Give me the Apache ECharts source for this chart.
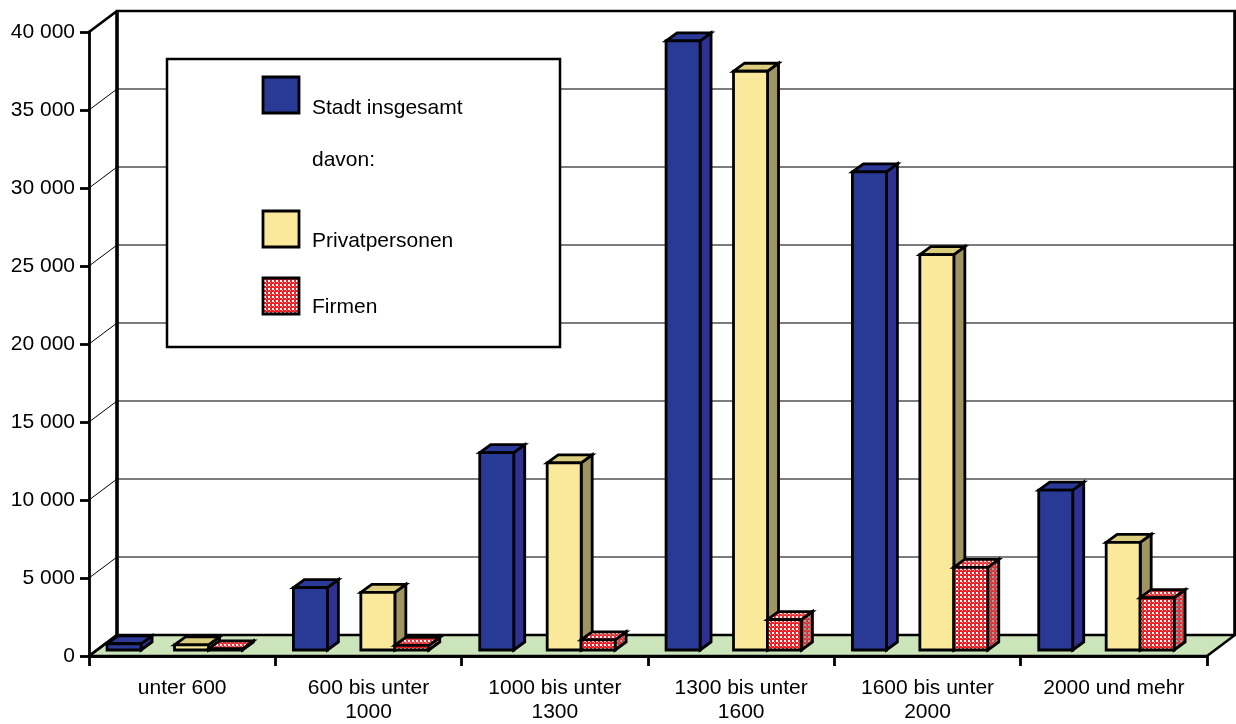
<!DOCTYPE html>
<html>
<head>
<meta charset="utf-8">
<script src="https://cdn.jsdelivr.net/npm/echarts@6/dist/echarts.min.js"></script>
<style>
html,body{margin:0;padding:0;background:#fff;}
#chart{width:1236px;height:724px;}
</style>
</head>
<body>
<div id="chart"></div>
<script>
// ---- data ----
var categories = ["unter 600", "600 bis unter\n1000", "1000 bis unter\n1300", "1300 bis unter\n1600", "1600 bis unter\n2000", "2000 und mehr"];
var stadtInsgesamt = [400, 4000, 12650, 39050, 30650, 10250];
var privatpersonen = [330, 3700, 12000, 37100, 25350, 6900];
var firmen = [70, 300, 650, 1950, 5300, 3350];
var yTicks = [0, 5000, 10000, 15000, 20000, 25000, 30000, 35000, 40000];
var legendNames = ["Stadt insgesamt", "davon:", "Privatpersonen", "Firmen"];

// ---- style constants ----
var FONT = "Liberation Sans, Arial, sans-serif";
var DX = 28, DY = -21;          // depth of the chart box
var BX = 8, BY = -6;            // bar front offset into depth
var BDX = 11, BDY = -8;         // bar depth
var BAR_W = 0.1825;             // bar width as fraction of band

function makePattern(c1, c2, c3) {
  var cv = document.createElement('canvas');
  cv.width = 4; cv.height = 4;
  var ctx = cv.getContext('2d');
  ctx.fillStyle = c1; ctx.fillRect(0, 0, 4, 4);
  ctx.fillStyle = c2; ctx.fillRect(0, 0, 2, 2);
  ctx.fillStyle = c3; ctx.fillRect(2, 2, 1, 1);
  return cv;
}
var redFront = {image: makePattern('#EE2026', '#FFFFFF', '#F6A3A5'), repeat: 'repeat'};
var redTop = {image: makePattern('#E8373A', '#FBEDED', '#F2B0B0'), repeat: 'repeat'};
var redSide = {image: makePattern('#D8363A', '#A0A0A0', '#B88080'), repeat: 'repeat'};

var chart = echarts.init(document.getElementById('chart'), null, {renderer: 'canvas'});

function frameRender(params, api) {
  var bw = api.size([1, 0])[0];
  var c0 = api.coord([0, 0]);
  var x0 = c0[0] - bw / 2;
  var x1 = x0 + categories.length * bw;
  var y0 = c0[1];
  var yTop = api.coord([0, 40000])[1];
  var children = [];
  // floor
  children.push({type: 'polygon', shape: {points: [[x0, y0], [x1, y0], [x1 + DX, y0 + DY], [x0 + DX, y0 + DY]]},
    style: {fill: '#CBE4BA', stroke: '#000', lineWidth: 2.5}});
  // back wall grid lines and side wall diagonals
  yTicks.forEach(function (v) {
    var y = api.coord([0, v])[1];
    var thick = (v === 0 || v === 40000);
    if (!thick) {
      children.push({type: 'line', shape: {x1: x0 + DX, y1: y + DY, x2: x1 + DX, y2: y + DY},
        style: {stroke: '#505050', lineWidth: 1.5}});
    }
    children.push({type: 'line', shape: {x1: x0, y1: y, x2: x0 + DX, y2: y + DY},
      style: {stroke: '#000', lineWidth: thick ? 2.8 : 1}});
  });
  // back wall border
  children.push({type: 'polyline', shape: {points: [[x0 + DX, y0 + DY], [x0 + DX, yTop + DY], [x1 + DX, yTop + DY], [x1 + DX, y0 + DY]]},
    style: {fill: null, stroke: '#000', lineWidth: 2.5}});
  children.push({type: 'line', shape: {x1: x0 + DX, y1: y0 + DY, x2: x0 + DX, y2: yTop + DY},
    style: {stroke: '#000', lineWidth: 3.5}});
  children.push({type: 'line', shape: {x1: x1 + DX, y1: y0 + DY, x2: x1 + DX, y2: yTop + DY},
    style: {stroke: '#000', lineWidth: 3.5}});
  return {type: 'group', children: children};
}

function barRenderer(offFrac, fills) {
  return function (params, api) {
    var idx = api.value(0), v = api.value(1);
    var bw = api.size([1, 0])[0];
    var p0 = api.coord([idx, 0]);
    var p1 = api.coord([idx, v]);
    var left = p0[0] - bw / 2 + offFrac * bw + BX;
    var right = left + BAR_W * bw;
    var bottom = p0[1] + BY;
    var top = p1[1] + BY;
    var st = {stroke: '#000', lineWidth: 2.8, lineJoin: 'miter'};
    return {type: 'group', children: [
      {type: 'polygon', shape: {points: [[right, bottom], [right + BDX, bottom + BDY], [right + BDX, top + BDY], [right, top]]},
        style: Object.assign({fill: fills[2]}, st)},
      {type: 'polygon', shape: {points: [[left, top], [right, top], [right + BDX, top + BDY], [left + BDX, top + BDY]]},
        style: Object.assign({fill: fills[1]}, st)},
      {type: 'polygon', shape: {points: [[left, bottom], [right, bottom], [right, top], [left, top]]},
        style: Object.assign({fill: fills[0]}, st)}
    ]};
  };
}

function toPairs(arr) { return arr.map(function (v, i) { return [i, v]; }); }

var legendItems = [];
legendItems.push({type: 'rect', shape: {x: 167, y: 59, width: 393, height: 288},
  style: {fill: '#fff', stroke: '#000', lineWidth: 2.5}, z: 100});
var legendFills = [['#293A96', 77, 108], [null, 0, 160], ['#FAE99A', 211, 241], [redFront, 278, 307]];
legendFills.forEach(function (lf, i) {
  if (lf[0]) {
    legendItems.push({type: 'rect', shape: {x: 263, y: lf[1], width: 36, height: 36},
      style: {fill: lf[0], stroke: '#000', lineWidth: 2.8}, z: 101});
  }
  legendItems.push({type: 'text', x: 312, y: lf[2], z: 101,
    style: {text: legendNames[i], font: '21px ' + FONT, fill: '#000', textVerticalAlign: 'middle', verticalAlign: 'middle'}});
});

var option = {
  backgroundColor: '#fff',
  animation: false,
  grid: {left: 89, right: 29, top: 32, bottom: 67, containLabel: false},
  xAxis: {
    type: 'category', data: categories, boundaryGap: true,
    axisLine: {show: true, lineStyle: {color: '#000', width: 2.8}},
    axisTick: {show: true, length: 10, interval: 0, lineStyle: {color: '#000', width: 2.8}},
    axisLabel: {interval: 0, color: '#000', fontSize: 21, fontFamily: FONT, margin: 20, lineHeight: 24},
    splitLine: {show: false}
  },
  yAxis: {
    type: 'value', min: 0, max: 40000, interval: 5000,
    axisLine: {show: true, lineStyle: {color: '#000', width: 2.8}},
    axisTick: {show: true, length: 9, lineStyle: {color: '#000', width: 2.8}},
    axisLabel: {color: '#000', fontSize: 21, fontFamily: FONT, margin: 14,
      formatter: function (v) { return String(v).replace(/\B(?=(\d{3})+(?!\d))/g, ' '); }},
    splitLine: {show: false}
  },
  series: [
    {type: 'custom', name: 'frame', data: [[0, 0]], renderItem: frameRender, z: 1, silent: true, clip: false},
    {type: 'custom', name: legendNames[0], data: toPairs(stadtInsgesamt), z: 3, clip: false,
      renderItem: barRenderer(0.054, ['#293A96', '#2B3A98', '#2E3192'])},
    {type: 'custom', name: legendNames[2], data: toPairs(privatpersonen), z: 3, clip: false,
      renderItem: barRenderer(0.416, ['#FAE99A', '#DACD7D', '#9E9560'])},
    {type: 'custom', name: legendNames[3], data: toPairs(firmen), z: 4, clip: false,
      renderItem: barRenderer(0.598, [redFront, redTop, redSide])}
  ],
  graphic: legendItems
};
chart.setOption(option);
</script>
</body>
</html>
